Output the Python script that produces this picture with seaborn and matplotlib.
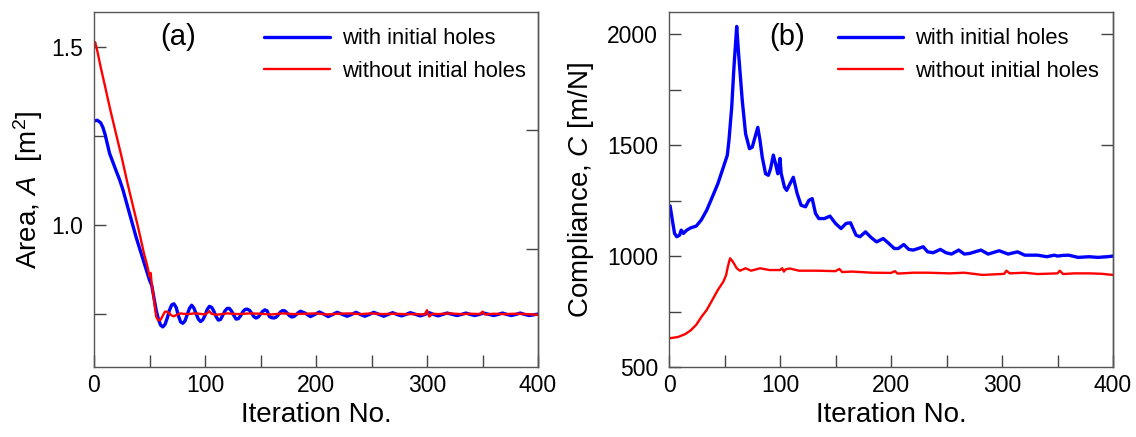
import matplotlib
matplotlib.use("Agg")
import matplotlib.pyplot as plt
from matplotlib.ticker import MultipleLocator, FormatStrFormatter
import pandas as pd
import seaborn as sns

# ---------------- data ----------------
# (a) Area history, with initial holes
iter_area_with = [
    0, 3, 6, 8, 10, 12, 14, 17, 20, 23,
    26, 30, 34, 38, 42, 46, 50, 52, 54, 56,
    58, 60, 62, 64, 66, 68, 70, 72, 74, 76,
    78, 80, 82, 84, 86, 88, 90, 92, 94, 96,
    98, 100, 102, 104, 106, 108, 110, 112, 114, 116,
    118, 120, 122, 124, 126, 128, 130, 132, 134, 136,
    138, 140, 142, 144, 146, 148, 150, 152, 154, 156,
    158, 160, 162, 164, 166, 168, 170, 172, 174, 176,
    178, 180, 182, 184, 186, 190, 195, 199, 203, 207,
    211, 215, 219, 224, 228, 232, 236, 240, 244, 248,
    252, 257, 261, 265, 269, 273, 277, 281, 285, 290,
    294, 298, 302, 306, 310, 314, 318, 323, 327, 331,
    335, 339, 343, 347, 351, 356, 360, 364, 368, 372,
    376, 380, 384, 388, 392, 396, 400]
area_with = [
    1.293, 1.295, 1.288, 1.275, 1.255, 1.228, 1.202, 1.177, 1.152, 1.128,
    1.100, 1.055, 1.010, 0.965, 0.925, 0.885, 0.845, 0.830, 0.795, 0.760,
    0.735, 0.718, 0.713, 0.720, 0.738, 0.760, 0.775, 0.778, 0.768, 0.745,
    0.727, 0.723, 0.730, 0.748, 0.765, 0.774, 0.766, 0.750, 0.735, 0.728,
    0.733, 0.745, 0.762, 0.771, 0.768, 0.757, 0.742, 0.732, 0.734, 0.746,
    0.758, 0.765, 0.765, 0.757, 0.745, 0.735, 0.736, 0.744, 0.755, 0.762,
    0.763, 0.760, 0.752, 0.742, 0.738, 0.741, 0.749, 0.757, 0.761, 0.758,
    0.742, 0.739, 0.738, 0.740, 0.747, 0.755, 0.759, 0.758, 0.752, 0.745,
    0.741, 0.742, 0.747, 0.753, 0.757, 0.752, 0.742, 0.748, 0.755, 0.749,
    0.742, 0.748, 0.754, 0.748, 0.743, 0.748, 0.754, 0.748, 0.743, 0.748,
    0.754, 0.748, 0.743, 0.748, 0.753, 0.748, 0.744, 0.748, 0.753, 0.748,
    0.744, 0.748, 0.753, 0.748, 0.744, 0.748, 0.752, 0.748, 0.745, 0.748,
    0.752, 0.748, 0.745, 0.748, 0.752, 0.748, 0.745, 0.748, 0.752, 0.748,
    0.745, 0.748, 0.752, 0.748, 0.745, 0.747, 0.749]

# (a) Area history, without initial holes
iter_area_without = [
    0, 1, 3, 6, 10, 15, 20, 25, 30, 35,
    40, 45, 48, 50, 51, 52, 54, 55, 56, 58,
    60, 62, 64, 66, 68, 70, 72, 74, 76, 78,
    80, 85, 90, 95, 100, 102, 104, 106, 110, 120,
    130, 140, 150, 160, 170, 180, 190, 200, 210, 220,
    230, 240, 250, 260, 270, 280, 290, 298, 300, 302,
    305, 310, 320, 330, 340, 348, 350, 352, 360, 370,
    380, 390, 400]
area_without = [
    1.505, 1.515, 1.490, 1.445, 1.390, 1.320, 1.255, 1.190, 1.120, 1.055,
    0.990, 0.920, 0.885, 0.855, 0.865, 0.835, 0.790, 0.765, 0.742, 0.731,
    0.733, 0.745, 0.756, 0.756, 0.750, 0.745, 0.743, 0.746, 0.749, 0.751,
    0.750, 0.749, 0.751, 0.750, 0.748, 0.752, 0.757, 0.750, 0.747, 0.751,
    0.749, 0.751, 0.750, 0.748, 0.751, 0.749, 0.750, 0.751, 0.748, 0.750,
    0.751, 0.749, 0.751, 0.749, 0.750, 0.749, 0.749, 0.748, 0.760, 0.742,
    0.750, 0.749, 0.751, 0.749, 0.750, 0.749, 0.756, 0.748, 0.750, 0.749,
    0.750, 0.749, 0.747]

# (b) Compliance history, with initial holes
iter_comp_with = [
    1, 3, 5, 7, 9.5, 11, 13, 16, 19.5, 24.5,
    29, 34, 39, 44, 49, 52.5, 54, 56.5, 58.5, 61,
    62.5, 66, 69, 72.5, 75, 77.5, 80, 82, 84, 87,
    89.5, 91.5, 94, 96, 98, 100, 101, 104, 106, 109,
    112, 115.5, 119, 123, 126, 129, 132, 135, 140, 145,
    150, 155, 159.5, 163.5, 168.5, 172, 177, 182, 187, 193,
    198, 203, 206.5, 211.5, 216, 220, 224.5, 229, 233, 238,
    244.5, 249.5, 254.5, 261, 266, 271, 281, 287.5, 297.5, 305.5,
    314, 320.5, 332, 340.5, 347, 350, 355, 360, 368.5, 378.5,
    386.5, 395, 400]
comp_with = [
    1226, 1162, 1102, 1087, 1094, 1117, 1102, 1117, 1127, 1135,
    1162, 1207, 1266, 1326, 1401, 1454, 1521, 1671, 1850, 2035,
    1925, 1701, 1551, 1484, 1491, 1536, 1580, 1521, 1446, 1371,
    1364, 1394, 1455, 1416, 1371, 1440, 1374, 1311, 1296, 1326,
    1355, 1281, 1229, 1222, 1251, 1259, 1192, 1169, 1169, 1180,
    1147, 1124, 1147, 1150, 1094, 1087, 1109, 1084, 1064, 1079,
    1057, 1034, 1034, 1052, 1030, 1027, 1034, 1042, 1019, 1015,
    1030, 1015, 1009, 1027, 1009, 1012, 1027, 1009, 1024, 1009,
    1019, 1004, 1004, 997, 1004, 1000, 1003, 1004, 994, 997,
    994, 997, 1000]

# (b) Compliance history, without initial holes
iter_comp_without = [
    1, 8, 14.5, 19.5, 24.5, 29.5, 34, 39, 44, 49,
    51.5, 53, 55, 57.5, 61, 64, 69, 74, 82, 90.5,
    100, 102, 103.5, 105, 109, 117, 133.5, 150, 153.5, 156,
    165, 183, 200, 203.5, 206, 220, 233, 253, 266, 282.5,
    299, 302, 304, 307, 320, 332, 350, 352, 355, 365,
    378.5, 390, 400]
comp_without = [
    630, 635, 648, 665, 690, 728, 757, 802, 847, 885,
    915, 952, 990, 975, 945, 934, 945, 934, 945, 937,
    937, 945, 930, 940, 944, 934, 934, 932, 942, 928,
    930, 925, 924, 932, 921, 925, 925, 922, 925, 915,
    919, 920, 934, 922, 925, 919, 922, 934, 919, 922,
    922, 920, 915]

series_labels = ["with initial holes", "without initial holes"]
panel_tags = ["(a)", "(b)"]
xlabel = "Iteration No."
ylabels = ["Area, $A$  [m$^2$]", "Compliance, $C$ [m/N]"]

# ---------------- style ----------------
sns.set_theme(style="ticks")
plt.rcParams.update({
    "font.family": ["Liberation Sans", "DejaVu Sans"],
    "mathtext.fontset": "custom",
    "mathtext.rm": "Liberation Sans",
    "mathtext.it": "Liberation Sans:italic",
    "mathtext.sf": "Liberation Sans",
    "text.color": "black",
    "axes.labelcolor": "black",
    "xtick.labelcolor": "black",
    "ytick.labelcolor": "black",
    "axes.edgecolor": "#555555",
    "axes.linewidth": 1.0,
})

BLUE, RED = "#0000ff", "#ff0000"
W, H = 1136, 437
fig = plt.figure(figsize=(W / 100, H / 100), dpi=100)
ax1 = fig.add_axes([94 / W, 70 / H, 444 / W, 355 / H])
ax2 = fig.add_axes([669 / W, 70 / H, 444 / W, 355 / H])

df_a = pd.DataFrame({
    "it": iter_area_with + iter_area_without,
    "val": area_with + area_without,
    "case": [series_labels[0]] * len(iter_area_with)
            + [series_labels[1]] * len(iter_area_without),
})
df_b = pd.DataFrame({
    "it": iter_comp_with + iter_comp_without,
    "val": comp_with + comp_without,
    "case": [series_labels[0]] * len(iter_comp_with)
            + [series_labels[1]] * len(iter_comp_without),
})

for ax, df in ((ax1, df_a), (ax2, df_b)):
    for lab, col, lw in ((series_labels[0], BLUE, 2.4), (series_labels[1], RED, 1.7)):
        sub = df[df["case"] == lab]
        sns.lineplot(data=sub, x="it", y="val", ax=ax, color=col, lw=lw,
                     label=lab, sort=False, estimator=None)


def style_axes(ax, ylim, ymajor, yminor, yfmt, right_ticks):
    ax.set_xlim(0, 400)
    ax.set_ylim(*ylim)
    ax.xaxis.set_major_locator(MultipleLocator(100))
    ax.xaxis.set_minor_locator(MultipleLocator(50))
    ax.yaxis.set_major_locator(MultipleLocator(ymajor))
    ax.yaxis.set_minor_locator(MultipleLocator(yminor))
    ax.yaxis.set_major_formatter(FormatStrFormatter(yfmt))
    ax.tick_params(which="both", direction="in", length=8.6, width=1.0,
                   color="#444444", labelcolor="black", labelsize=16.5,
                   top=False, right=False)
    ax.tick_params(axis="y", which="both", pad=8)
    ax.tick_params(axis="x", which="both", pad=5)
    for s in ax.spines.values():
        s.set_visible(True)
        s.set_color("#555555")
        s.set_linewidth(1.0)
    sec = ax.secondary_yaxis("right")
    sec.set_yticks(right_ticks)
    sec.tick_params(direction="in", length=8.6, width=1.0, color="#444444",
                    labelright=False)
    sec.spines["right"].set_color("#555555")
    sec.spines["right"].set_linewidth(1.0)
    ax.set_xlabel(xlabel, fontsize=20, labelpad=4)


style_axes(ax1, (0.6, 1.6), 0.5, 0.25, "%.1f", [0.6 + 1 / 3, 0.6 + 2 / 3])
style_axes(ax2, (500, 2100), 500, 250, "%d", [1000, 1500, 2000])
ax1.set_ylabel(ylabels[0], fontsize=20, labelpad=4)
ax2.set_ylabel(ylabels[1], fontsize=20, labelpad=8)

for ax, tag, tx, lx in ((ax1, panel_tags[0], 0.19, 0.384), (ax2, panel_tags[1], 0.266, 0.38)):
    ax.text(tx, 0.93, tag, transform=ax.transAxes, fontsize=21,
            ha="center", va="center")
    ax.legend(loc="upper left", bbox_to_anchor=(lx, 0.954), frameon=False,
              fontsize=15.8, handlelength=2.97, handletextpad=0.55,
              labelspacing=0.53, borderpad=0, borderaxespad=0)

fig.savefig("out.png", dpi=100)
